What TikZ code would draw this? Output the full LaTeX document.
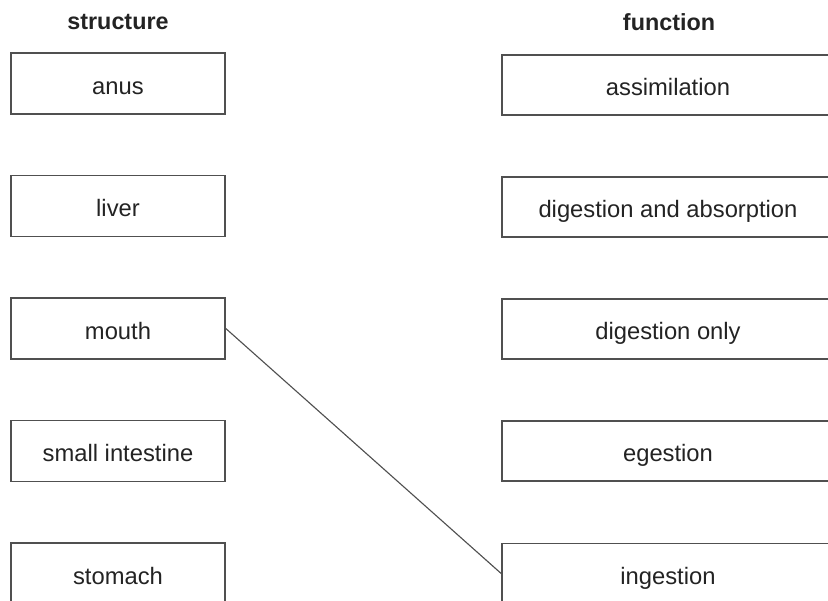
\documentclass[tikz,border=0pt]{standalone}
\usepackage{fontspec}
\setmainfont{Liberation Sans}
\usetikzlibrary{positioning}
\definecolor{boxline}{RGB}{80,80,80}
\definecolor{textgray}{RGB}{35,35,35}

\begin{document}
\begin{tikzpicture}[x=0.025cm, y=-0.025cm,
  organbox/.style={draw=boxline, line width=1.1pt, rectangle, minimum width=5.35cm, minimum height=1.525cm, inner sep=0pt, text=textgray, text height=15.6pt, text depth=0pt, font=\fontsize{16.9}{20}\selectfont},
  rolebox/.style={organbox, minimum width=8.3cm, minimum height=1.5cm},
  colhead/.style={text=textgray, font=\fontsize{16.6}{20}\selectfont\bfseries}]
\useasboundingbox (0,0) rectangle (828,600);
\clip (0,0) rectangle (828,600);

% Column headings
\node[colhead] (hstruct) at (118,22) {structure};
\node[colhead] (hfunc) at (669,22) {function};

% Structures
\node[organbox] (anus) at (118,83.5) {anus};
\node[organbox] (liver) at (118,206) {liver};
\node[organbox] (mouth) at (118,328.5) {mouth};
\node[organbox] (smallint) at (118,451) {small intestine};
\node[organbox] (stomach) at (118,573.5) {stomach};

% Functions
\node[rolebox] (assim) at (668,85) {assimilation};
\node[rolebox] (digabs) at (668,207) {digestion and absorption};
\node[rolebox] (digonly) at (668,329) {digestion only};
\node[rolebox] (egest) at (668,451) {egestion};
\node[rolebox] (ingest) at (668,573.5) {ingestion};

% Match
\draw[boxline, line width=0.8pt] (mouth.east) -- (ingest.west);
\end{tikzpicture}
\end{document}
